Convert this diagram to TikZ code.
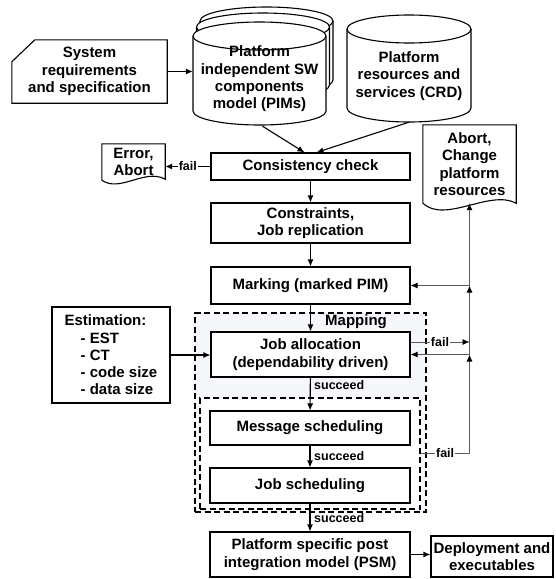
\documentclass[tikz,border=0pt]{standalone}
\usepackage{fontspec}
\setmainfont{Liberation Sans}
\usetikzlibrary{arrows.meta,calc}
\definecolor{mapfill}{RGB}{245,247,250}
\definecolor{fbline}{RGB}{90,90,90}

\begin{document}
\begin{tikzpicture}[x=1pt,y=-1pt,
  font=\bfseries\fontsize{15}{17.3}\selectfont,
  box/.style={draw, line width=1.1pt, fill=white, align=center, inner sep=0pt},
  ghost/.style={inner sep=0pt, align=center},
  outline/.style={line width=1.1pt},
  cyl/.style={draw, line width=1.1pt, fill=white},
  arr/.style={line width=1.1pt, -{Latex[length=7pt,width=6pt]}},
  fb/.style={draw=fbline, line width=0.9pt},
  fbarr/.style={fb, -{Latex[length=7pt,width=6pt,color=black]}},
  lbl/.style={font=\bfseries\fontsize{12.5}{14}\selectfont, inner sep=1pt},
  group/.style={draw, line width=1.6pt, dash pattern=on 6pt off 3.5pt, inner sep=0pt},
]
\useasboundingbox (0,0) rectangle (556,579);

% --- mapping region and its scheduling sub-region ---
\node[group, fill=mapfill, minimum width=231pt, minimum height=199pt] (mapping) at (310.5,412.5) {};
\node[group, fill=white, minimum width=220pt, minimum height=111pt] (sched) at (310,453.5) {};
\node (maplbl) at (356,322) {Mapping};

% --- stacked PIM cylinders ---
\filldraw[cyl] (200,21) -- (200,80) arc[start angle=180,end angle=360,x radius=66.5pt,y radius=14pt] -- (333,21) arc[start angle=0,end angle=180,x radius=66.5pt,y radius=14pt] -- cycle;
\draw[outline] (200,21) arc[start angle=180,end angle=360,x radius=66.5pt,y radius=14pt];
\filldraw[cyl] (196.5,27) -- (196.5,85) arc[start angle=180,end angle=360,x radius=66.5pt,y radius=14pt] -- (329.5,27) arc[start angle=0,end angle=180,x radius=66.5pt,y radius=14pt] -- cycle;
\draw[outline] (196.5,27) arc[start angle=180,end angle=360,x radius=66.5pt,y radius=14pt];
\filldraw[cyl] (193,36) -- (193,111) arc[start angle=180,end angle=360,x radius=66.5pt,y radius=14pt] -- (326,36) arc[start angle=0,end angle=180,x radius=66.5pt,y radius=14pt] -- cycle;
\draw[outline] (193,36) arc[start angle=180,end angle=360,x radius=66.5pt,y radius=14pt];

% --- platform resources cylinder ---
\filldraw[cyl] (347,29) -- (347,108) arc[start angle=180,end angle=360,x radius=62pt,y radius=14pt] -- (471,29) arc[start angle=0,end angle=180,x radius=62pt,y radius=14pt] -- cycle;
\draw[outline] (347,29) arc[start angle=180,end angle=360,x radius=62pt,y radius=14pt];

% --- text of the stores and inputs ---
\node[ghost, minimum width=133pt, minimum height=92pt] (pim) at (259.5,79) {Platform\\independent SW\\components\\model (PIMs)};
\node[ghost, minimum width=124pt, minimum height=92pt] (crd) at (409,76) {Platform\\resources and\\services (CRD)};
\node[ghost, minimum width=155pt, minimum height=63pt] (sys) at (89.5,71.5) {System\\requirements\\and specification};
\draw[outline] ($(sys.north west)+(23,0)$) -- (sys.north east) -- (sys.south east) -- (sys.south west) -- ($(sys.north west)+(0,22)$) -- cycle;

% --- documents ---
\node[ghost, minimum width=63pt, minimum height=36pt] (err) at (133.5,162) {Error,\\Abort};
\draw[outline] (err.north west) -- (err.north east) -- ($(err.south east)+(0,-1)$) .. controls (145,168) and (120,193) .. (err.south west) -- cycle;
\node[ghost, minimum width=93pt, minimum height=78pt] (abort) at (469.5,164) {Abort,\\Change\\platform\\resources};
\draw[outline] (abort.north west) -- (abort.north east) -- (abort.south east) .. controls (490,189) and (445,224) .. (abort.south west) -- cycle;

% --- process steps ---
\node[box, minimum width=199pt, minimum height=27pt] (cons) at (310.5,166.5) {Consistency check};
\node[box, minimum width=199pt, minimum height=40pt] (constr) at (310.5,223) {Constraints,\\Job replication};
\node[box, minimum width=199pt, minimum height=37pt] (mark) at (310.5,285.5) {Marking (marked PIM)};
\node[box, minimum width=199pt, minimum height=45pt] (alloc) at (310.5,354.5) {Job allocation\\(dependability driven)};
\node[box, minimum width=200pt, minimum height=34pt] (msg) at (310,428) {Message scheduling};
\node[box, minimum width=200pt, minimum height=35pt] (jsch) at (310,485.5) {Job scheduling};
\node[box, minimum width=200pt, minimum height=45pt] (psm) at (310,554.5) {Platform specific post\\integration model (PSM)};
\node[box, minimum width=122pt, minimum height=41pt] (dep) at (492,556.5) {Deployment and\\executables};
\node[box, minimum width=118pt, minimum height=96pt, align=left] (est) at (111,355)
  {Estimation:\\\hspace*{16pt}- EST\\\hspace*{16pt}- CT\\\hspace*{16pt}- code size\\\hspace*{16pt}- data size};

% --- main flow ---
\draw[arr] (sys.east) -- (sys.east -| pim.west);
\draw[arr] ($(pim.south)+(3,1)$) -- ($(cons.north)+(-6,0)$);
\draw[arr] (crd.south) -- ($(cons.north)+(6,0)$);
\draw[arr] (cons.west) -- node[lbl, fill=white] {fail} (cons.west -| err.east);
\draw[arr] (cons) -- (constr);
\draw[arr] (constr) -- (mark);
\draw[arr] (mark) -- (alloc);
\draw[arr] (est.east) -- (est.east -| alloc.west);
\draw[arr] (alloc) -- (msg);
\draw[arr] (msg) -- (jsch);
\draw[arr] (jsch) -- (psm);
\draw[arr] (psm.east) -- (psm.east -| dep.west);
\node[lbl, anchor=west] (s1) at (313,385) {succeed};
\node[lbl, anchor=west] (s2) at (313,456) {succeed};
\node[lbl, anchor=west] (s3) at (313,518) {succeed};

% --- feedback on failure ---
\coordinate (bus) at (abort.south);
\draw[fbarr] ($(alloc.east)+(0,-12.5)$) -- node[lbl, fill=white, text=black] {fail} ($(bus |- alloc.east)+(0,-12.5)$);
\draw[fbarr] (sched.east) -- node[lbl, fill=white, text=black] {fail} (sched.east -| bus) -- (bus |- alloc.east);
\draw[fbarr] (bus |- alloc.east) -- (alloc.east);
\draw[fbarr] (bus |- alloc.east) -- (bus |- mark.east);
\draw[fbarr] (bus |- mark.east) -- (mark.east);
\draw[fbarr] (bus |- mark.east) -- (abort.south);
\end{tikzpicture}
\end{document}
